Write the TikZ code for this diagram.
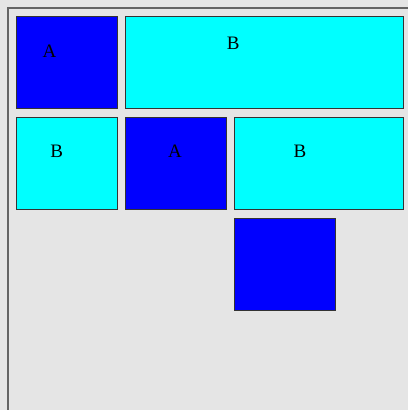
\documentclass[tikz,border=0pt]{standalone}
\usepackage{fontspec}
\setmainfont{Liberation Serif}
\usepackage{tikz}

\definecolor{panelgray}{RGB}{229,229,229}
\definecolor{framegray}{RGB}{100,100,100}
\definecolor{boxblue}{RGB}{0,0,255}
\definecolor{boxcyan}{RGB}{0,255,255}

\begin{document}
\begin{tikzpicture}[x=1pt, y=-1pt,
    cell/.style={draw=black!80, line width=0.8pt, inner sep=0pt, anchor=north west, minimum height=92pt},
    acell/.style={cell, fill=boxblue},
    bcell/.style={cell, fill=boxcyan},
    tag/.style={font=\fontsize{19}{19}\selectfont, inner sep=0pt}]
    % Background
    \fill[panelgray] (0,0) rectangle (408,410);
    \useasboundingbox (0,0) rectangle (408,410);
    \coordinate (frametop) at (408,8);
    \coordinate (framecorner) at (8,8);
    \coordinate (framebottom) at (8,410);
    \draw[framegray, line width=1.5pt] (framebottom) -- (framecorner) -- (frametop);
    
    % Row 1
    \node[acell, minimum width=101pt] (a1) at (16,16) {};
    \node[bcell, minimum width=278pt] (b1) at (125,16) {};
    % Row 2
    \node[bcell, minimum width=101pt] (b2) at (16,117) {};
    \node[acell, minimum width=101pt] (a2) at (125,117) {};
    \node[bcell, minimum width=169pt] (b3) at (234,117) {};
    % Row 3
    \node[acell, minimum width=101pt] (a3) at (234,218) {};
    
    % Labels
    \node[tag] (a1label) at (49.5,51) {A};
    \node[tag] (b1label) at (233.3,43.2) {B};
    \node[tag] (b2label) at (56.7,151.5) {B};
    \node[tag] (a2label) at (175,151.5) {A};
    \node[tag] (b3label) at (300,151.5) {B};
\end{tikzpicture}
\end{document}
